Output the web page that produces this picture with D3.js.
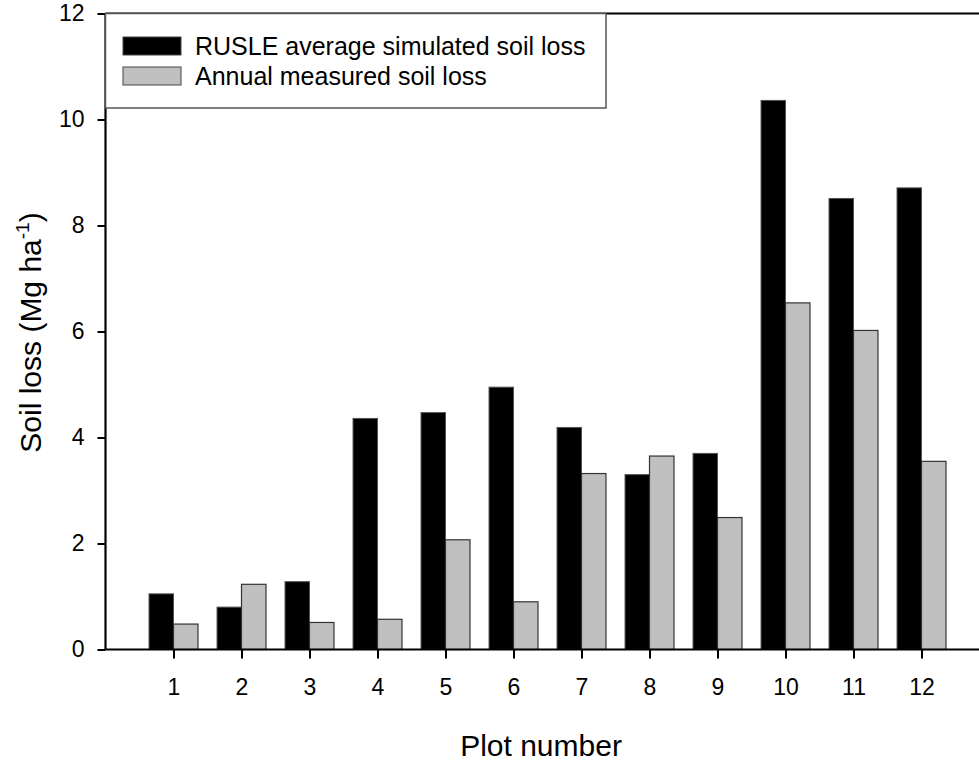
<!DOCTYPE html>
<html>
<head>
<meta charset="utf-8">
<script src="https://cdn.jsdelivr.net/npm/d3@7"></script>
<style>
  html, body { margin: 0; padding: 0; background: #fff; }
  svg { display: block; font-family: Arial, "Liberation Sans", sans-serif; }
</style>
</head>
<body>
<svg id="chart" width="979" height="761"></svg>
<script>
// Soil loss per plot: RUSLE average simulated vs annual measured (Mg ha-1)
const plots = [1, 2, 3, 4, 5, 6, 7, 8, 9, 10, 11, 12];
const simulated = [1.05, 0.80, 1.28, 4.36, 4.47, 4.95, 4.19, 3.30, 3.70, 10.36, 8.51, 8.71];
const measured  = [0.48, 1.23, 0.51, 0.57, 2.07, 0.90, 3.32, 3.65, 2.49, 6.54, 6.02, 3.55];
const yTicks = [0, 2, 4, 6, 8, 10, 12];
const seriesNames = ["RUSLE average simulated soil loss", "Annual measured soil loss"];

const svg = d3.select("#chart");
const plotLeft = 105.5, plotBottom = 649.5, plotTop = 13.5;
const unit = 68;

const x = d3.scaleLinear().domain([0, 13]).range([plotLeft, plotLeft + unit * 13]);
const y = d3.scaleLinear().domain([0, 12]).range([plotBottom, plotTop]);
const barW = 0.36;

// bars: simulated sits left of the tick, measured to the right
const g = svg.append("g");
g.selectAll("rect.sim").data(plots).join("rect")
  .attr("class", "sim")
  .attr("x", (d) => x(d - barW))
  .attr("width", (d) => x(d) - x(d - barW))
  .attr("y", (d, i) => y(simulated[i]))
  .attr("height", (d, i) => y(0) - y(simulated[i]))
  .attr("fill", "#000").attr("stroke", "#555").attr("stroke-width", 1);

g.selectAll("rect.meas").data(plots).join("rect")
  .attr("class", "meas")
  .attr("x", (d) => x(d))
  .attr("width", (d) => x(d + barW) - x(d))
  .attr("y", (d, i) => y(measured[i]))
  .attr("height", (d, i) => y(0) - y(measured[i]))
  .attr("fill", "#c0c0c0").attr("stroke", "#333").attr("stroke-width", 1.2);

// axes
const xAxis = svg.append("g")
  .attr("transform", `translate(0,${plotBottom})`)
  .call(d3.axisBottom(x).tickValues(plots).tickSize(9).tickPadding(20).tickFormat(d3.format("d")));
const yAxis = svg.append("g")
  .attr("transform", `translate(${plotLeft},0)`)
  .call(d3.axisLeft(y).tickValues(yTicks).tickSize(8).tickPadding(13).tickFormat(d3.format("d")));

[xAxis, yAxis].forEach((a) => {
  a.select(".domain").attr("stroke", "#000").attr("stroke-width", 2.2);
  a.selectAll(".tick line").attr("stroke", "#000").attr("stroke-width", 2);
  a.selectAll(".tick text").attr("fill", "#000").attr("font-size", 23)
    .attr("font-family", "Arial, 'Liberation Sans', sans-serif");
});
yAxis.select(".domain").attr("d", `M0,${plotBottom}V${plotTop}`);
xAxis.select(".domain").attr("d", `M${plotLeft},0H${x(13)}`);

// top frame line
svg.append("line")
  .attr("x1", plotLeft).attr("x2", 979).attr("y1", plotTop).attr("y2", plotTop)
  .attr("stroke", "#000").attr("stroke-width", 2.2);

// legend
const legend = svg.append("g");
legend.append("rect")
  .attr("x", plotLeft).attr("y", plotTop).attr("width", 606 - plotLeft).attr("height", 108 - plotTop)
  .attr("fill", "#fff").attr("stroke", "#555").attr("stroke-width", 1.5);
const fills = ["#000", "#c0c0c0"];
seriesNames.forEach((name, i) => {
  const yy = 37 + i * 30;
  legend.append("rect")
    .attr("x", 123).attr("y", yy).attr("width", 58).attr("height", 18)
    .attr("fill", fills[i]).attr("stroke", "#444").attr("stroke-width", 1);
  legend.append("text")
    .attr("x", 195).attr("y", yy + 9).attr("dy", "0.36em")
    .attr("font-size", 25).attr("fill", "#000")
    .text(name);
});

// axis titles
svg.append("text")
  .attr("x", 541).attr("y", 756)
  .attr("text-anchor", "middle").attr("font-size", 30).attr("fill", "#000")
  .text("Plot number");

const yt = svg.append("text")
  .attr("transform", `translate(41,${(plotBottom + plotTop) / 2 + 1}) rotate(-90)`)
  .attr("text-anchor", "middle").attr("font-size", 30).attr("fill", "#000");
yt.append("tspan").text("Soil loss (Mg ha");
yt.append("tspan").attr("dy", -12).attr("font-size", 19).text("-1");
yt.append("tspan").attr("dy", 12).text(")");
</script>
</body>
</html>
